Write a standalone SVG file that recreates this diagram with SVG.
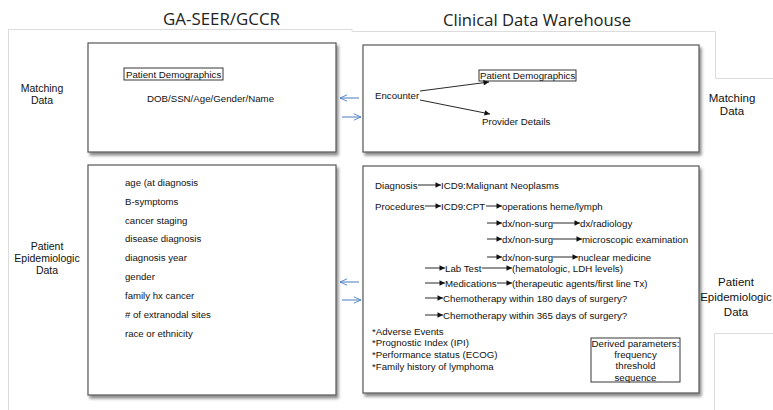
<svg xmlns="http://www.w3.org/2000/svg" width="773" height="410" viewBox="0 0 773 410">
  <style>
    .title { font-family: "Open Sans", "Liberation Sans", sans-serif; font-size: 17px; fill: #222; }
    .t { font-family: "Liberation Sans", Arial, sans-serif; font-size: 9.7px; fill: #111; }
    .ts { font-family: "Liberation Sans", Arial, sans-serif; font-size: 9.6px; fill: #111; }
    .side { font-family: "Liberation Sans", Arial, sans-serif; font-size: 10.5px; fill: #111; text-anchor: middle; }
    .sideR { font-family: "Liberation Sans", Arial, sans-serif; font-size: 11.5px; fill: #111; text-anchor: middle; }
    .panel { fill: #fff; stroke: #555; stroke-width: 1.2; filter: url(#shadow); }
    .bg { fill: none; stroke: #dcdcdc; stroke-width: 1; }
    .lbl { fill: none; stroke: #222; stroke-width: 0.9; }
    .flow { stroke: #111; stroke-width: 0.9; fill: none; marker-end: url(#tri); }
    .link { stroke: #4a7cc0; stroke-width: 1; fill: none; marker-end: url(#vee); }
  </style>
  <defs>
    <filter id="shadow" x="-5%" y="-5%" width="112%" height="115%">
      <feDropShadow dx="2" dy="3" stdDeviation="1.6" flood-color="#000" flood-opacity="0.45"/>
    </filter>
    <marker id="tri" viewBox="0 0 10 10" refX="10" refY="5" markerWidth="7.5" markerHeight="5.5" markerUnits="userSpaceOnUse" orient="auto">
      <path d="M0,0 L10,5 L0,10 Z" fill="#111"/>
    </marker>
    <marker id="vee" viewBox="0 0 10 10" refX="10" refY="5" markerWidth="8" markerHeight="8" markerUnits="userSpaceOnUse" orient="auto">
      <path d="M1,1 L10,5 L1,9" fill="none" stroke="#4a7cc0" stroke-width="1.1"/>
    </marker>
  </defs>

  <rect width="773" height="410" fill="#fff"/>

  <!-- faint outer frame -->
  <path class="bg" d="M8.5,410 V29.5 H352 V31.5 H715.5 V78.5 H773"/>
  <path class="bg" d="M714.5,410 V333.5 H773"/>

  <!-- column headings -->
  <text class="title" x="163" y="25" textLength="117" lengthAdjust="spacingAndGlyphs">GA-SEER/GCCR</text>
  <text class="title" x="443" y="26" textLength="188" lengthAdjust="spacingAndGlyphs">Clinical Data Warehouse</text>

  <!-- row labels -->
  <g id="label-matching-left">
    <text class="side" x="42" y="92">Matching</text>
    <text class="side" x="42" y="104">Data</text>
  </g>
  <g id="label-epi-left">
    <text class="side" x="47" y="250">Patient</text>
    <text class="side" x="47" y="262">Epidemiologic</text>
    <text class="side" x="47" y="274">Data</text>
  </g>
  <g id="label-matching-right">
    <text class="sideR" x="732" y="102">Matching</text>
    <text class="sideR" x="732" y="115">Data</text>
  </g>
  <g id="label-epi-right">
    <text class="sideR" x="736" y="286">Patient</text>
    <text class="sideR" x="736" y="301">Epidemiologic</text>
    <text class="sideR" x="736" y="316">Data</text>
  </g>

  <!-- GA-SEER matching data -->
  <g id="seer-matching">
    <rect class="panel" x="88" y="43" width="248" height="109"/>
    <rect class="lbl" x="124" y="68" width="99" height="12"/>
    <text class="t" x="126" y="77.5">Patient Demographics</text>
    <text class="t" x="147" y="101.5">DOB/SSN/Age/Gender/Name</text>
  </g>

  <!-- Warehouse matching data -->
  <g id="cdw-matching">
    <rect class="panel" x="363" y="45" width="336" height="107"/>
    <text class="t" x="375" y="98.5">Encounter</text>
    <rect class="lbl" x="479" y="70" width="97" height="11"/>
    <text class="t" x="480" y="78.5">Patient Demographics</text>
    <text class="t" x="482" y="124.5">Provider Details</text>
    <path class="flow" d="M420,91 L489,82"/>
    <path class="flow" d="M420,100 L490,114"/>
  </g>

  <!-- GA-SEER epidemiologic data -->
  <g id="seer-epi">
    <rect class="panel" x="88" y="165" width="248" height="230"/>
    <text class="ts" x="125" y="185.5">age (at diagnosis</text>
    <text class="ts" x="125" y="204.5">B-symptoms</text>
    <text class="ts" x="125" y="223.5">cancer staging</text>
    <text class="ts" x="125" y="241.5">disease diagnosis</text>
    <text class="ts" x="125" y="260.5">diagnosis year</text>
    <text class="ts" x="125" y="279.5">gender</text>
    <text class="ts" x="125" y="298.5">family hx cancer</text>
    <text class="ts" x="125" y="317.5">#  of extranodal sites</text>
    <text class="ts" x="125" y="336.5">race or ethnicity</text>
  </g>

  <!-- Warehouse epidemiologic data -->
  <g id="cdw-epi">
    <rect class="panel" x="363" y="166" width="336" height="227"/>
    <text class="t" x="375" y="188.5">Diagnosis</text>
    <text class="t" x="441" y="188.5">ICD9:Malignant Neoplasms</text>
    <text class="t" x="375" y="209.5">Procedures</text>
    <text class="t" x="441" y="209.5">ICD9:CPT</text>
    <text class="t" x="502" y="209.5">operations heme/lymph</text>
    <text class="t" x="502" y="226.5">dx/non-surg</text>
    <text class="t" x="580" y="226.5">dx/radiology</text>
    <text class="t" x="502" y="242.5">dx/non-surg</text>
    <text class="t" x="582" y="242.5">microscopic examination</text>
    <text class="t" x="502" y="260.5">dx/non-surg</text>
    <text class="t" x="578" y="260.5">nuclear medicine</text>
    <text class="t" x="445" y="271.5">Lab Test</text>
    <text class="t" x="512" y="271.5">(hematologic, LDH levels)</text>
    <text class="t" x="445" y="286.5">Medications</text>
    <text class="t" x="512" y="286.5">(therapeutic agents/first line Tx)</text>
    <text class="t" x="443" y="301.5">Chemotherapy within 180 days of surgery?</text>
    <text class="t" x="443" y="318.5">Chemotherapy within 365 days of surgery?</text>
    <text class="t" x="372" y="334.5">*Adverse Events</text>
    <text class="t" x="372" y="345.5">*Prognostic Index (IPI)</text>
    <text class="t" x="372" y="357.5">*Performance status (ECOG)</text>
    <text class="t" x="372" y="370">*Family history of lymphoma</text>
    <rect class="lbl" x="591" y="338" width="89" height="44"/>
    <text class="t" x="635.5" y="346.5" text-anchor="middle">Derived parameters:</text>
    <text class="t" x="635.5" y="357.5" text-anchor="middle">frequency</text>
    <text class="t" x="635.5" y="369" text-anchor="middle">threshold</text>
    <text class="t" x="635.5" y="380.5" text-anchor="middle">sequence</text>
  </g>

  <!-- connectors -->
  <g id="connectors">
    <path class="flow" d="M418,185 H441"/>
    <path class="flow" d="M425,206 H441"/>
    <path class="flow" d="M486,206 H502"/>
    <path class="flow" d="M487,223 H502"/>
    <path class="flow" d="M553,223 H580"/>
    <path class="flow" d="M487,239 H502"/>
    <path class="flow" d="M553,239 H582"/>
    <path class="flow" d="M487,257 H502"/>
    <path class="flow" d="M553,257 H578"/>
    <path class="flow" d="M425,268 H445"/>
    <path class="flow" d="M482,268 H512"/>
    <path class="flow" d="M425,283 H445"/>
    <path class="flow" d="M497,283 H512"/>
    <path class="flow" d="M425,298 H443"/>
    <path class="flow" d="M425,315 H443"/>
    <path class="link" d="M359,98 H340"/>
    <path class="link" d="M342,117 H361"/>
    <path class="link" d="M359,282 H340"/>
    <path class="link" d="M342,300 H361"/>
  </g>
</svg>
